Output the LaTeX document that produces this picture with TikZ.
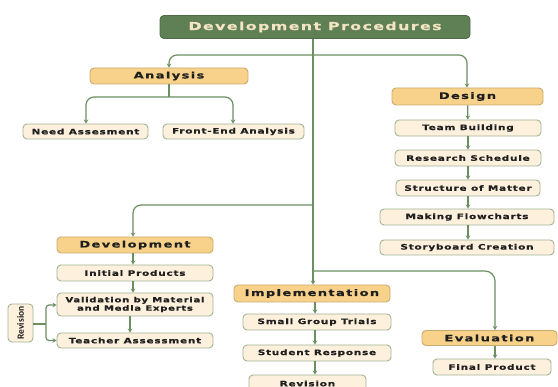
\documentclass[tikz,border=0pt]{standalone}
\usepackage{fontspec}
\usetikzlibrary{arrows.meta}
\newfontfamily\subfont[FakeStretch=1.4, LetterSpace=10, FakeBold=0.6]{DejaVu Sans}
\newfontfamily\headfont[FakeStretch=1.45, LetterSpace=15, FakeBold=0.6]{DejaVu Sans}
\newfontfamily\ttlfont[FakeStretch=1.45, LetterSpace=12, FakeBold=0.5]{DejaVu Sans}
\newfontfamily\revfont{Carlito}
\definecolor{titlefill}{HTML}{5F7F55}
\definecolor{titletext}{HTML}{F3E4C4}
\definecolor{headfill}{HTML}{F8D28B}
\definecolor{headdraw}{HTML}{C9AB6E}
\definecolor{subfill}{HTML}{FDF0DC}
\definecolor{subdraw}{HTML}{A3B496}
\definecolor{linec}{HTML}{6B8F60}
\tikzset{
  box/.style={rectangle, rounded corners=4pt, line width=0.9pt, inner sep=0pt, align=center, text=black!88},
  titlebox/.style={box, fill=titlefill, draw=titlefill!85!black, text=titletext, font=\ttlfont\bfseries\fontsize{11}{12}\selectfont},
  headbox/.style={box, fill=headfill, draw=headdraw, font=\headfont\bfseries\fontsize{9}{10}\selectfont},
  subbox/.style={box, fill=subfill, draw=subdraw, font=\subfont\bfseries\fontsize{7.5}{8.5}\selectfont},
  arr/.style={draw=linec, line width=1.2pt, -{Stealth[length=4pt,width=4.5pt]}},
  ln/.style={draw=linec, line width=1.2pt},
}
\begin{document}
\begin{tikzpicture}[x=1pt,y=-1pt]
\clip (0,0) rectangle (558,387);
\fill[white] (0,0) rectangle (558,387);
% nodes
\node[titlebox, minimum width=310pt, minimum height=23pt] (title) at (315,27) {Development Procedures};
\node[headbox, minimum width=158pt, minimum height=16pt] (analysis) at (169,76) {Analysis};
\node[subbox, minimum width=125pt, minimum height=15pt] (need) at (85.5,131.5) {Need Assesment};
\node[subbox, minimum width=141pt, minimum height=15pt] (front) at (233.5,131.5) {Front-End Analysis};
\node[headbox, minimum width=151pt, minimum height=17pt] (design) at (467.5,96.5) {Design};
\node[subbox, minimum width=146pt, minimum height=16pt] (team) at (468,128) {Team Building};
\node[subbox, minimum width=146pt, minimum height=16pt] (research) at (468,158) {Research Schedule};
\node[subbox, minimum width=144pt, minimum height=16pt] (structure) at (468,188) {Structure of Matter};
\node[subbox, minimum width=174pt, minimum height=16pt] (making) at (467,217) {Making Flowcharts};
\node[subbox, minimum width=174pt, minimum height=15pt] (story) at (467,247.5) {Storyboard Creation};
\node[headbox, minimum width=156pt, minimum height=16pt] (dev) at (135,245) {Development};
\node[subbox, minimum width=156pt, minimum height=16pt] (initial) at (135,273) {Initial Products};
\node[subbox, minimum width=156pt, minimum height=23pt, font=\subfont\bfseries\fontsize{7.2}{8.4}\selectfont] (valid) at (135,304.5) {Validation by Material\\and Media Experts};
\node[subbox, minimum width=156pt, minimum height=15pt] (teacher) at (135,340.5) {Teacher Assessment};
\node[box, fill=subfill, draw=subdraw, minimum width=25pt, minimum height=38pt] (revbox) at (20.5,323) {};
\node[rotate=90, font=\revfont\bfseries\fontsize{9.5}{10}\selectfont, text=black!88] (revtext) at (revbox.center) {Revision};
\node[headbox, minimum width=156pt, minimum height=17pt] (impl) at (312,293.5) {Implementation};
\node[subbox, minimum width=148pt, minimum height=16pt] (small) at (317,322) {Small Group Trials};
\node[subbox, minimum width=148pt, minimum height=16pt] (student) at (317,353) {Student Response};
\node[subbox, minimum width=117pt, minimum height=17pt] (revision) at (307.5,383.5) {Revision};
\node[headbox, minimum width=135pt, minimum height=15pt] (eval) at (489.5,338) {Evaluation};
\node[subbox, minimum width=118pt, minimum height=16pt] (final) at (492,367) {Final Product};
% junctions
\coordinate (j1) at (313,55);
\coordinate (j2) at (169,97);
\coordinate (j3) at (313,205);
\coordinate (j4) at (313,271);
\coordinate (j5) at (46,324);
% connectors
\draw[arr] (title.south -| j1) -- (j1 |- impl.north);
\draw[arr, rounded corners=8pt] (j1) -| (analysis.north);
\draw[arr, rounded corners=8pt] (j1) -| ([xshift=-0.5pt]design.north);
\draw[ln] (analysis.south) -- (j2);
\draw[arr, rounded corners=8pt] (j2) -| ([xshift=0.5pt]need.north);
\draw[arr, rounded corners=8pt] (j2) -| ([xshift=-0.5pt]front.north);
\draw[arr] (design) -- (team);
\draw[arr] (team) -- (research);
\draw[arr] (research) -- (structure);
\draw[arr] (structure) -- ([xshift=1pt]making.north);
\draw[arr] ([xshift=1pt]making.south) -- ([xshift=1pt]story.north);
\draw[arr, rounded corners=8pt] (j3) -| ([xshift=-2pt]dev.north);
\draw[arr] ([xshift=-2pt]dev.south) -- ([xshift=-2pt]initial.north);
\draw[arr] ([xshift=-2pt]initial.south) -- ([xshift=-2pt]valid.north);
\draw[arr] ([xshift=-5pt]valid.south) -- ([xshift=-5pt]teacher.north);
\draw[ln] (revbox.east |- j5) -- (j5);
\draw[arr, rounded corners=3pt] (j5) |- ([yshift=-0.5pt]valid.west);
\draw[arr, rounded corners=3pt] (j5) |- (teacher.west);
\draw[arr] ([xshift=3pt]impl.south) -- ([xshift=-2pt]small.north);
\draw[arr] ([xshift=-2pt]small.south) -- ([xshift=-2pt]student.north);
\draw[arr] ([xshift=-2pt]student.south) -- ([xshift=7.5pt]revision.north);
\draw[arr, rounded corners=10pt] (j4) -| ([xshift=5.5pt]eval.north);
\draw[arr] ([xshift=5.5pt]eval.south) -- ([xshift=3pt]final.north);
\end{tikzpicture}
\end{document}
